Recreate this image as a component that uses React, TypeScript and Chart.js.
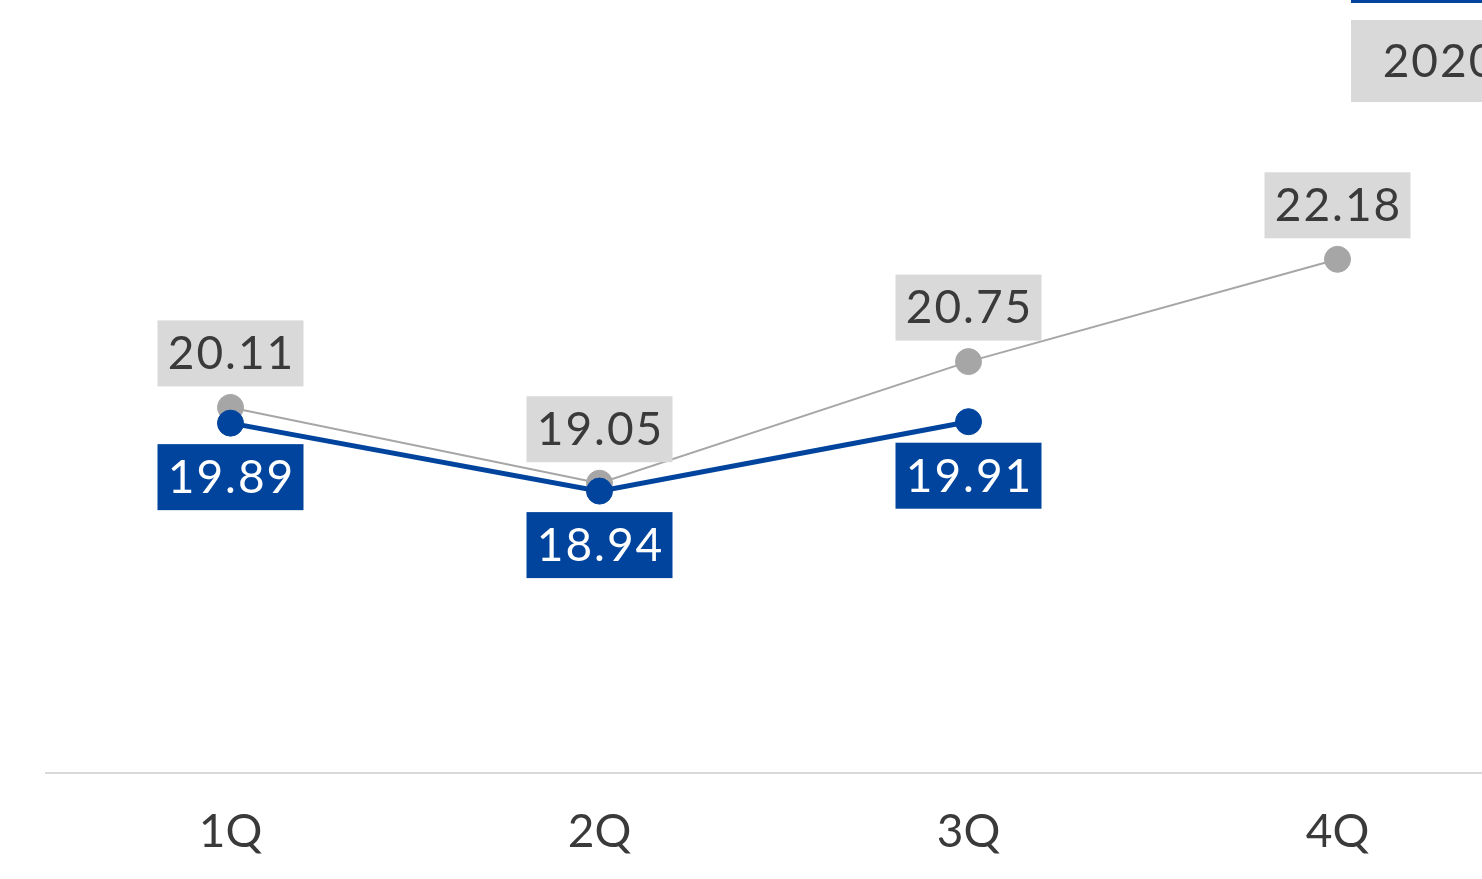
import React, { useEffect, useRef } from "react";
import { Chart, registerables } from "chart.js";

Chart.register(...registerables);

const categories = ["1Q", "2Q", "3Q", "4Q"];
const values2020 = [20.11, 19.05, 20.75, 22.18];
const values2021 = [19.89, 18.94, 19.91, null];
const legendLabels = ["2021", "2020"];

const BLUE = "#00449E";
const GRAY = "#A6A6A6";
const BOX_GRAY = "#D9D9D9";
const TEXT_DARK = "#3A3A3A";
const FONT = "Lato, 'Open Sans', sans-serif";

const labelStyles = [
  { bg: BLUE, color: "#FFFFFF", above: false },
  { bg: BOX_GRAY, color: TEXT_DARK, above: true },
];

const valueLabelPlugin = {
  id: "valueLabels",
  afterDatasetsDraw(chart: any) {
    const ctx = chart.ctx;
    ctx.save();
    ctx.font = `46px ${FONT}`;
    ctx.textAlign = "center";
    ctx.textBaseline = "middle";
    try { (ctx as any).letterSpacing = "2px"; } catch (e) {}
    chart.data.datasets.forEach((ds: any, i: number) => {
      const meta = chart.getDatasetMeta(i);
      const st = labelStyles[i];
      meta.data.forEach((pt: any, j: number) => {
        const v = ds.data[j];
        if (v === null || v === undefined) return;
        const w = 146;
        const h = 66;
        const gap = 21;
        const x = pt.x - w / 2;
        const y = st.above ? pt.y - gap - h : pt.y + gap;
        ctx.fillStyle = st.bg;
        ctx.fillRect(x, y, w, h);
        ctx.fillStyle = st.color;
        ctx.fillText(v.toFixed(2), pt.x + 1, y + h / 2 + 1);
      });
    });
    ctx.restore();
  },
};

const legendPlugin = {
  id: "boxLegend",
  afterDraw(chart: any) {
    const ctx = chart.ctx;
    ctx.save();
    ctx.font = `46px ${FONT}`;
    ctx.textAlign = "center";
    ctx.textBaseline = "middle";
    try { (ctx as any).letterSpacing = "2px"; } catch (e) {}
    const x = 1351;
    const w = 178;
    const h = 82;
    const ys = [21, 120];
    const bgs = [BLUE, BOX_GRAY];
    const fgs = ["#FFFFFF", TEXT_DARK];
    legendLabels.forEach((lab, i) => {
      ctx.fillStyle = bgs[i];
      ctx.fillRect(x, ys[i], w, h);
      ctx.fillStyle = fgs[i];
      ctx.fillText(lab, x + w / 2, ys[i] + h / 2 + 1);
    });
    ctx.restore();
  },
};

export default function App() {
  const ref = useRef<HTMLCanvasElement | null>(null);

  useEffect(() => {
    if (!ref.current) return;
    const chart = new Chart(ref.current, {
      type: "line",
      data: {
        labels: categories,
        datasets: [
          {
            label: legendLabels[0],
            data: values2021,
            borderColor: BLUE,
            backgroundColor: BLUE,
            borderWidth: 5,
            pointRadius: 13,
            pointBorderWidth: 1,
            pointBackgroundColor: BLUE,
            pointBorderColor: BLUE,
            tension: 0,
            order: 0,
            spanGaps: false,
          },
          {
            label: legendLabels[1],
            data: values2020,
            borderColor: GRAY,
            backgroundColor: GRAY,
            borderWidth: 2,
            pointRadius: 13,
            pointBorderWidth: 1,
            pointBackgroundColor: GRAY,
            pointBorderColor: GRAY,
            tension: 0,
            order: 1,
          },
        ],
      },
      options: {
        responsive: false,
        animation: false,
        devicePixelRatio: 1,
        layout: { padding: { left: 46, right: 78, top: 86, bottom: 0 } },
        plugins: {
          legend: { display: false },
          tooltip: { enabled: false },
        },
        scales: {
          x: {
            offset: true,
            grid: { display: false, drawTicks: false },
            border: { display: true, color: "#D9D9D9", width: 2 },
            ticks: {
              color: TEXT_DARK,
              font: { family: FONT, size: 46 },
              padding: 32,
            },
            afterFit: (scale: any) => {
              scale.height = 106;
            },
          },
          y: {
            display: false,
            min: 15,
            max: 26,
          },
        },
      },
      plugins: [valueLabelPlugin, legendPlugin],
    });
    return () => chart.destroy();
  }, []);

  return (
    <div
      style={{
        position: "fixed",
        left: 0,
        top: 0,
        width: 1482,
        height: 879,
        overflow: "hidden",
        background: "#FFFFFF",
      }}
    >
      <div style={{ position: "absolute", left: 0, top: -100, width: 1600, height: 979 }}>
        <canvas ref={ref} width={1600} height={979} style={{ width: 1600, height: 979 }} />
      </div>
    </div>
  );
}
